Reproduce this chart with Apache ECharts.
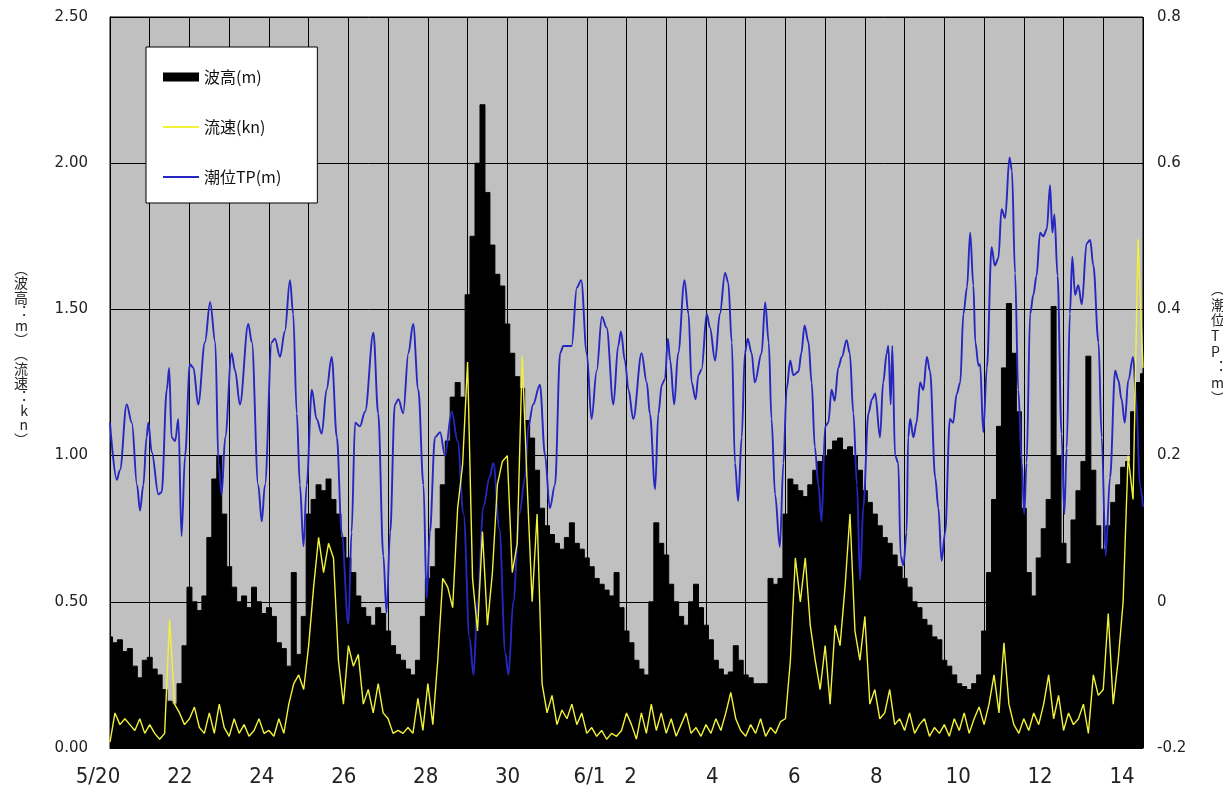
<!DOCTYPE html>
<html><head><meta charset="utf-8">
<script src="https://cdn.jsdelivr.net/npm/echarts@6/dist/echarts.min.js"></script>
<style>html,body{margin:0;padding:0;background:#fff}#c{width:1223px;height:798px}</style>
</head><body><div id="c"></div>
<script>
// time step of wave / current series, in days (3 h); day 0 = 5/20 00:00
const STEP = 0.125;

// 波高 (m), every 3 h
const waveHeight = [
0.38,0.36,0.37,0.33,0.34,0.28,0.24,0.30,
0.31,0.27,0.25,0.20,0.16,0.15,0.22,0.35,
0.55,0.50,0.47,0.52,0.72,0.92,1.00,0.80,
0.62,0.55,0.50,0.52,0.48,0.55,0.50,0.46,
0.48,0.45,0.36,0.34,0.28,0.60,0.32,0.45,
0.80,0.85,0.90,0.88,0.92,0.85,0.80,0.72,
0.65,0.60,0.52,0.48,0.45,0.42,0.48,0.46,
0.40,0.35,0.32,0.30,0.27,0.25,0.30,0.45,
0.58,0.62,0.75,0.90,1.05,1.20,1.25,1.20,
1.55,1.75,2.00,2.20,1.90,1.72,1.62,1.58,
1.45,1.35,1.27,1.23,1.12,1.06,0.95,0.82,
0.76,0.73,0.70,0.68,0.72,0.77,0.70,0.68,
0.65,0.62,0.58,0.56,0.54,0.52,0.60,0.48,
0.40,0.36,0.30,0.27,0.25,0.50,0.77,0.70,
0.66,0.56,0.50,0.45,0.42,0.50,0.56,0.48,
0.42,0.37,0.30,0.27,0.25,0.26,0.35,0.30,
0.25,0.24,0.22,0.22,0.22,0.58,0.56,0.58,
0.80,0.92,0.90,0.88,0.86,0.90,0.95,0.98,
1.00,1.02,1.05,1.06,1.02,1.03,1.00,0.95,
0.88,0.84,0.80,0.76,0.72,0.70,0.66,0.62,
0.58,0.55,0.50,0.48,0.44,0.42,0.38,0.37,
0.30,0.28,0.25,0.22,0.21,0.20,0.22,0.25,
0.40,0.60,0.85,1.10,1.30,1.52,1.35,1.15,
0.82,0.60,0.52,0.65,0.75,0.85,1.51,1.00,
0.70,0.63,0.78,0.88,0.98,1.34,0.95,0.76,
0.68,0.76,0.84,0.90,0.96,0.98,1.15,1.25,
1.28];

// 流速 (kn), every 3 h
const currentSpeed = [
0.02,0.12,0.08,0.10,0.08,0.06,0.10,0.05,
0.08,0.05,0.03,0.05,0.44,0.15,0.12,0.08,
0.10,0.14,0.07,0.05,0.12,0.05,0.15,0.07,
0.04,0.10,0.05,0.08,0.04,0.06,0.10,0.05,
0.06,0.04,0.10,0.05,0.15,0.22,0.25,0.20,
0.35,0.55,0.72,0.60,0.70,0.65,0.30,0.15,
0.35,0.28,0.32,0.15,0.20,0.12,0.22,0.12,
0.10,0.05,0.06,0.05,0.07,0.05,0.17,0.06,
0.22,0.08,0.30,0.58,0.55,0.48,0.82,0.97,
1.32,0.58,0.40,0.74,0.42,0.60,0.90,0.98,
1.00,0.60,0.70,1.34,0.90,0.50,0.80,0.22,
0.12,0.18,0.08,0.13,0.10,0.15,0.08,0.12,
0.05,0.07,0.04,0.06,0.03,0.05,0.04,0.06,
0.12,0.08,0.03,0.12,0.05,0.15,0.06,0.12,
0.05,0.10,0.04,0.08,0.12,0.05,0.07,0.04,
0.08,0.05,0.10,0.06,0.12,0.19,0.10,0.06,
0.04,0.08,0.05,0.10,0.04,0.07,0.05,0.09,
0.10,0.30,0.65,0.50,0.65,0.42,0.30,0.20,
0.35,0.15,0.42,0.35,0.55,0.80,0.40,0.30,
0.45,0.15,0.20,0.10,0.12,0.20,0.08,0.10,
0.06,0.12,0.05,0.08,0.10,0.04,0.07,0.05,
0.08,0.04,0.10,0.06,0.12,0.05,0.10,0.14,
0.08,0.15,0.25,0.12,0.36,0.15,0.08,0.05,
0.10,0.06,0.12,0.08,0.15,0.25,0.10,0.18,
0.06,0.12,0.08,0.10,0.15,0.05,0.25,0.18,
0.20,0.46,0.15,0.30,0.50,1.00,0.85,1.74,
1.30];

// 潮位TP (m): read at turning points, time in days from 5/20 00:00
const tideDay = [
0,0.17,0.25,0.42,0.55,0.68,0.755,0.84,0.92,0.965,1.05,1.22,1.3,1.43,1.49,1.55,1.64,1.72,1.8,1.89,
2.01,2.1,2.22,2.39,2.52,2.65,2.73,2.81,2.9,3.06,3.15,3.27,3.48,3.57,3.73,3.82,3.9,4.07,4.15,4.28,
4.4,4.53,4.61,4.7,4.78,4.87,4.95,5.08,5.2,5.33,5.45,5.58,5.71,5.83,6.0,6.08,6.17,6.29,6.42,6.63,
6.75,6.88,6.96,7.05,7.17,7.26,7.38,7.51,7.63,7.76,7.89,7.97,8.05,8.18,8.31,8.43,8.6,8.75,8.9,9.05,
9.15,9.25,9.4,9.55,9.65,9.8,9.95,10.03,10.15,10.3,10.45,10.53,10.65,10.82,10.95,11.07,11.2,11.33,11.41,11.62,
11.75,11.86,12.0,12.12,12.25,12.38,12.5,12.67,12.79,12.86,12.96,13.05,13.17,13.38,13.51,13.59,13.72,13.8,13.89,13.97,
14.04,14.1,14.2,14.3,14.46,14.56,14.64,14.74,14.81,14.89,15.02,15.1,15.23,15.35,15.48,15.56,15.65,15.73,15.81,15.9,
15.98,16.05,16.15,16.23,16.4,16.49,16.58,16.65,16.74,16.86,16.95,17.03,17.12,17.2,17.33,17.4,17.48,17.58,17.66,17.74,
17.83,17.91,18.0,18.08,18.16,18.24,18.33,18.42,18.54,18.62,18.71,18.8,18.88,18.96,19.09,19.18,19.26,19.38,19.46,19.55,
19.59,19.65,19.69,19.76,19.84,19.9,19.97,20.05,20.09,20.14,20.22,20.3,20.39,20.47,20.56,20.64,20.77,20.85,20.93,21.02,
21.14,21.22,21.31,21.4,21.48,21.57,21.65,21.73,21.78,21.86,21.9,21.98,22.07,22.19,22.27,22.36,22.44,22.53,22.64,22.7,
22.78,22.86,22.95,23.01,23.07,23.16,23.24,23.32,23.41,23.49,23.58,23.66,23.72,23.77,23.85,23.95,24.02,24.08,24.16,24.22,
24.29,24.37,24.46,24.58,24.67,24.75,24.88,24.96,25.06,25.17,25.3,25.38,25.46,25.54,25.63,25.75,25.83,25.92,26.0];
const tideLevel = [
0.245,0.167,0.18,0.27,0.245,0.16,0.125,0.16,0.225,0.245,0.205,0.147,0.15,0.29,0.32,0.225,0.22,0.25,0.09,0.2,
0.325,0.32,0.27,0.355,0.41,0.355,0.19,0.147,0.225,0.34,0.316,0.27,0.38,0.355,0.16,0.11,0.16,0.355,0.36,0.335,
0.37,0.44,0.394,0.258,0.16,0.076,0.16,0.29,0.25,0.23,0.29,0.335,0.225,0.095,-0.03,0.095,0.245,0.24,0.26,0.368,
0.258,0.063,-0.015,0.095,0.27,0.277,0.258,0.34,0.38,0.29,0.16,0.005,0.095,0.225,0.232,0.2,0.26,0.22,0.12,-0.05,
-0.1,0.0,0.13,0.17,0.19,0.1,-0.07,-0.1,0.0,0.12,0.17,0.24,0.27,0.297,0.2,0.128,0.16,0.34,0.35,0.35,
0.43,0.44,0.34,0.25,0.316,0.39,0.375,0.27,0.35,0.37,0.33,0.29,0.25,0.34,0.30,0.257,0.154,0.257,0.297,0.305,
0.36,0.33,0.27,0.34,0.44,0.394,0.30,0.277,0.31,0.318,0.394,0.375,0.33,0.394,0.45,0.437,0.355,0.19,0.138,0.225,
0.34,0.36,0.34,0.3,0.34,0.41,0.355,0.25,0.147,0.075,0.19,0.29,0.33,0.31,0.315,0.34,0.378,0.355,0.30,0.212,
0.16,0.11,0.24,0.245,0.29,0.275,0.32,0.335,0.358,0.34,0.258,0.16,0.03,0.13,0.258,0.277,0.285,0.225,0.3,0.34,
0.35,0.27,0.35,0.2,0.19,0.063,0.05,0.095,0.225,0.25,0.225,0.245,0.3,0.29,0.335,0.315,0.17,0.128,0.056,0.095,
0.25,0.245,0.284,0.3,0.394,0.43,0.505,0.433,0.355,0.323,0.325,0.232,0.32,0.485,0.46,0.47,0.537,0.525,0.608,0.59,
0.45,0.29,0.19,0.12,0.19,0.394,0.42,0.446,0.505,0.5,0.51,0.57,0.505,0.53,0.446,0.23,0.12,0.21,0.394,0.472,
0.42,0.433,0.407,0.49,0.495,0.46,0.355,0.225,0.063,0.17,0.316,0.303,0.277,0.245,0.303,0.335,0.277,0.16,0.13];

// date tick labels
const labelDays  = [0, 2, 4, 6, 8, 10, 12, 13, 15, 17, 19, 21, 23, 25];
const labelTexts = ['5/20','22','24','26','28','30','6/1','2','4','6','8','10','12','14'];

const wavePairs  = waveHeight.map((v, i) => [i * STEP, v]);
const speedPairs = currentSpeed.map((v, i) => [i * STEP, v]);
const tidePairs  = tideDay.map((d, i) => [d, tideLevel[i]]);

// stacked (vertical) axis title; trailing blank lines lift the visible text
const vert = (s, pad) => Array.from(s).join('\n') + '\n '.repeat(pad);
const CJK = "'Noto Sans CJK JP', sans-serif";

const chart = echarts.init(document.getElementById('c'), null, {renderer: 'canvas'});
chart.setOption({
  animation: false,
  backgroundColor: '#ffffff',
  grid: {left: 110, right: 80, top: 17, bottom: 50, show: true,
         outerBoundsMode: 'none', containLabel: false,
         backgroundColor: '#c0c0c0', borderColor: '#000', borderWidth: 1},
  legend: {
    orient: 'vertical', left: 146, top: 47,
    itemWidth: 36, itemHeight: 9, itemGap: 34,
    padding: [22, 36, 18, 16],
    backgroundColor: '#fff', borderColor: '#000', borderWidth: 1,
    selectedMode: false,
    textStyle: {fontSize: 16, fontFamily: CJK, color: '#111'},
    data: [
      {name: '波高(m)', icon: 'rect'},
      {name: '流速(kn)', itemStyle: {opacity: 0}},
      {name: '潮位TP(m)', itemStyle: {opacity: 0}}
    ]
  },
  xAxis: [
    {type: 'value', min: 0, max: 26, interval: 1,
     axisLine: {lineStyle: {color: '#000'}}, axisTick: {show: false},
     axisLabel: {show: false},
     splitLine: {show: true, lineStyle: {color: '#000', width: 1}}},
    {type: 'value', min: 0, max: 25.22, interval: 1, position: 'bottom',
     axisLine: {show: false}, axisTick: {show: false}, splitLine: {show: false},
     axisLabel: {show: true, margin: 18, padding: [0, 24, 0, 0],
       fontSize: 22, fontFamily: "'Liberation Sans Narrow', 'DejaVu Sans Condensed', sans-serif",
       color: '#222', showMinLabel: true, showMaxLabel: false,
       formatter: v => { const k = labelDays.indexOf(Math.round(v)); return (Math.abs(v - Math.round(v)) < 1e-6 && k >= 0) ? labelTexts[k] : ''; }}}
  ],
  yAxis: [
    {type: 'value', min: 0, max: 2.5, interval: 0.5,
     name: vert('︵波高︓m︶︵流速︓kn︶', 4), nameLocation: 'middle', nameRotate: 0, nameGap: 82,
     nameTextStyle: {fontSize: 14, lineHeight: 14.2, fontFamily: CJK, color: '#222'},
     axisLine: {show: true, lineStyle: {color: '#000'}}, axisTick: {show: false},
     axisLabel: {margin: 22, fontSize: 15, fontFamily: "'DejaVu Sans', sans-serif", color: '#222',
       formatter: v => v.toFixed(2)},
     splitLine: {show: true, lineStyle: {color: '#000', width: 1}}},
    {type: 'value', min: -0.2, max: 0.8, interval: 0.2, position: 'right',
     name: vert('︵潮位TP︓m︶', 5), nameLocation: 'middle', nameRotate: 0, nameGap: 68,
     nameTextStyle: {fontSize: 14, lineHeight: 15.6, fontFamily: CJK, color: '#222'},
     axisLine: {show: true, lineStyle: {color: '#000'}}, axisTick: {show: false},
     axisLabel: {margin: 14, fontSize: 15, fontFamily: "'DejaVu Sans', sans-serif", color: '#222',
       formatter: v => { const r = Math.round(v * 10) / 10; return r === 0 ? '0' : String(r); }},
     splitLine: {show: false}}
  ],
  series: [
    {name: '波高(m)', type: 'line', xAxisIndex: 0, yAxisIndex: 0, data: wavePairs,
     step: 'middle', symbol: 'none', z: 2,
     lineStyle: {color: '#000', width: 1}, itemStyle: {color: '#000'},
     areaStyle: {color: '#000', opacity: 1}},
    {name: '潮位TP(m)', type: 'line', xAxisIndex: 0, yAxisIndex: 1, data: tidePairs,
     smooth: 0.35, smoothMonotone: 'x', symbol: 'none', z: 3,
     lineStyle: {color: '#2626c0', width: 1.9}, itemStyle: {color: '#2626c0'}},
    {name: '流速(kn)', type: 'line', xAxisIndex: 0, yAxisIndex: 0, data: speedPairs,
     symbol: 'none', z: 4,
     lineStyle: {color: '#f2f23a', width: 1.4}, itemStyle: {color: '#f2f23a'}}
  ]
});
</script>
</body></html>
